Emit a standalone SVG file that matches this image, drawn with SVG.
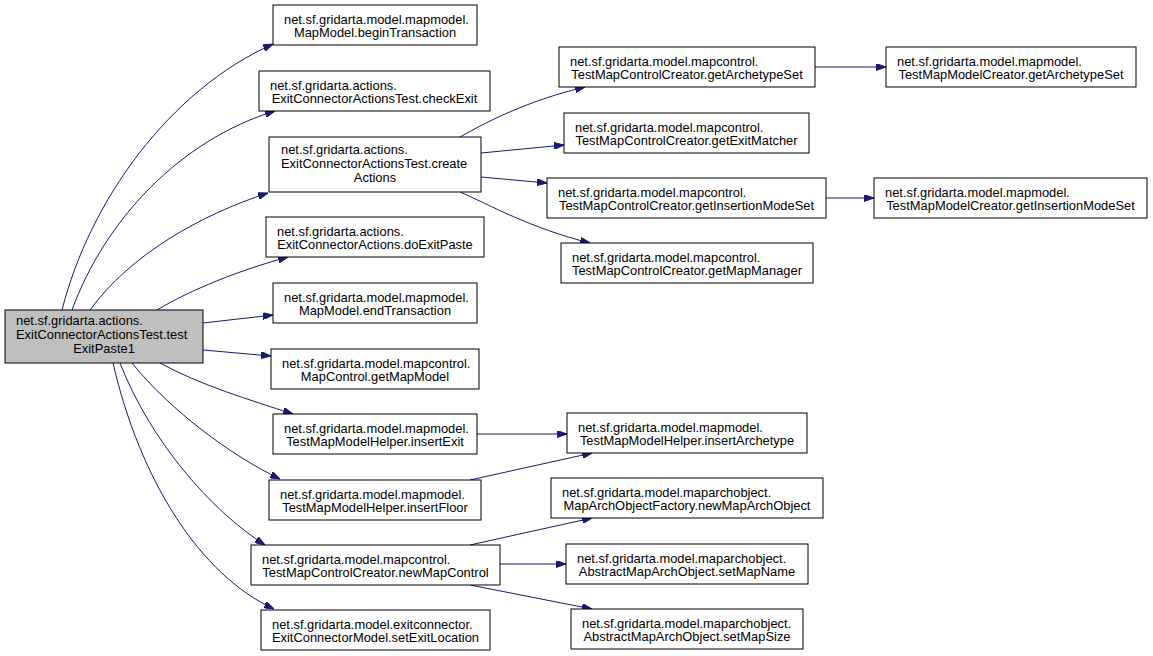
<svg xmlns="http://www.w3.org/2000/svg" width="1153" height="656" viewBox="0 0 1153 656">
<style>
rect{fill:#fff;stroke:#000;stroke-width:1}
#root rect{fill:#bfbfbf}
text{font-family:"Liberation Sans",Arial,sans-serif;font-size:12.9px;fill:#000}
.m{text-anchor:middle}
#edges path{fill:none;stroke:#191970;stroke-width:1;marker-end:url(#a)}
</style>
<defs>
<marker id="a" markerUnits="userSpaceOnUse" markerWidth="10" markerHeight="7" refX="10" refY="3.5" orient="auto" viewBox="0 0 10 7">
<path d="M0,0 L10,3.5 L0,7 z" fill="#191970" stroke="#191970"/>
</marker>
</defs>
<rect x="0" y="0" width="1153" height="656" style="fill:#fff;stroke:none"/>
<g id="edges">
<path d="M62,310 C90,200 170,90 273,44"/>
<path d="M72,310 C105,220 180,140 275,111"/>
<path d="M90,310 C130,255 200,215 268,193"/>
<path d="M157,310 C190,290 240,270 288,257"/>
<path d="M203,323 L273,315"/>
<path d="M203,350 L271,356"/>
<path d="M160,363 C200,385 250,400 293,414"/>
<path d="M132,363 C170,410 230,455 280,479"/>
<path d="M120,363 C150,440 210,510 265,545"/>
<path d="M113,363 C140,480 200,575 274,609"/>
<path d="M460,137 C490,120 530,100 585,87"/>
<path d="M481,153 L564,145"/>
<path d="M481,177 L547,183"/>
<path d="M460,192 C490,205 530,228 590,243"/>
<path d="M815,67 L886,67"/>
<path d="M826,198 L874,198"/>
<path d="M477,434 L567,434"/>
<path d="M470,480 L592,453"/>
<path d="M470,545 L592,518"/>
<path d="M500,564 L566,564"/>
<path d="M470,585 L592,609"/>
</g>
<g id="root">
<rect x="5" y="310" width="198" height="53"/>
<text x="16" y="325">net.sf.gridarta.actions.</text>
<text x="16" y="339">ExitConnectorActionsTest.test</text>
<text x="104" y="353" class="m">ExitPaste1</text>
</g>
<g id="n_beginTransaction">
<rect x="273" y="5" width="204" height="40"/>
<text x="284" y="24">net.sf.gridarta.model.mapmodel.</text>
<text x="375" y="37" class="m">MapModel.beginTransaction</text>
</g>
<g id="n_checkExit">
<rect x="259" y="71" width="231" height="40"/>
<text x="270" y="90">net.sf.gridarta.actions.</text>
<text x="374.5" y="103" class="m">ExitConnectorActionsTest.checkExit</text>
</g>
<g id="n_createActions">
<rect x="269" y="137" width="212" height="55"/>
<text x="281" y="153.5">net.sf.gridarta.actions.</text>
<text x="281" y="167.5">ExitConnectorActionsTest.create</text>
<text x="375" y="182" class="m">Actions</text>
</g>
<g id="n_doExitPaste">
<rect x="266" y="217" width="218" height="40"/>
<text x="277" y="236">net.sf.gridarta.actions.</text>
<text x="375" y="249" class="m">ExitConnectorActions.doExitPaste</text>
</g>
<g id="n_endTransaction">
<rect x="273" y="283" width="204" height="40"/>
<text x="284" y="302">net.sf.gridarta.model.mapmodel.</text>
<text x="375" y="315" class="m">MapModel.endTransaction</text>
</g>
<g id="n_getMapModel">
<rect x="271" y="349" width="208" height="40"/>
<text x="282" y="368">net.sf.gridarta.model.mapcontrol.</text>
<text x="375" y="381" class="m">MapControl.getMapModel</text>
</g>
<g id="n_insertExit">
<rect x="273" y="414" width="204" height="40"/>
<text x="284" y="433">net.sf.gridarta.model.mapmodel.</text>
<text x="375" y="446" class="m">TestMapModelHelper.insertExit</text>
</g>
<g id="n_insertFloor">
<rect x="269" y="480" width="212" height="40"/>
<text x="280" y="499">net.sf.gridarta.model.mapmodel.</text>
<text x="375" y="512" class="m">TestMapModelHelper.insertFloor</text>
</g>
<g id="n_newMapControl">
<rect x="251" y="545" width="249" height="40"/>
<text x="262" y="564">net.sf.gridarta.model.mapcontrol.</text>
<text x="375.5" y="577" class="m">TestMapControlCreator.newMapControl</text>
</g>
<g id="n_setExitLocation">
<rect x="261" y="610" width="229" height="40"/>
<text x="272" y="629">net.sf.gridarta.model.exitconnector.</text>
<text x="375.5" y="642" class="m">ExitConnectorModel.setExitLocation</text>
</g>
<g id="n_mc_getArchetypeSet">
<rect x="559" y="47" width="256" height="40"/>
<text x="570" y="66">net.sf.gridarta.model.mapcontrol.</text>
<text x="687" y="79" class="m">TestMapControlCreator.getArchetypeSet</text>
</g>
<g id="n_getExitMatcher">
<rect x="564" y="113" width="245" height="40"/>
<text x="575" y="132">net.sf.gridarta.model.mapcontrol.</text>
<text x="686.5" y="145" class="m">TestMapControlCreator.getExitMatcher</text>
</g>
<g id="n_mc_getInsertionModeSet">
<rect x="547" y="178" width="279" height="40"/>
<text x="558" y="197">net.sf.gridarta.model.mapcontrol.</text>
<text x="686.5" y="210" class="m">TestMapControlCreator.getInsertionModeSet</text>
</g>
<g id="n_getMapManager">
<rect x="561" y="243" width="252" height="40"/>
<text x="572" y="262">net.sf.gridarta.model.mapcontrol.</text>
<text x="687" y="275" class="m">TestMapControlCreator.getMapManager</text>
</g>
<g id="n_insertArchetype">
<rect x="567" y="413" width="240" height="40"/>
<text x="578" y="432">net.sf.gridarta.model.mapmodel.</text>
<text x="687" y="445" class="m">TestMapModelHelper.insertArchetype</text>
</g>
<g id="n_newMapArchObject">
<rect x="551" y="478" width="272" height="40"/>
<text x="562" y="497">net.sf.gridarta.model.maparchobject.</text>
<text x="687" y="510" class="m">MapArchObjectFactory.newMapArchObject</text>
</g>
<g id="n_setMapName">
<rect x="566" y="544" width="242" height="40"/>
<text x="577" y="563">net.sf.gridarta.model.maparchobject.</text>
<text x="687" y="576" class="m">AbstractMapArchObject.setMapName</text>
</g>
<g id="n_setMapSize">
<rect x="571" y="609" width="232" height="40"/>
<text x="582" y="628">net.sf.gridarta.model.maparchobject.</text>
<text x="687" y="641" class="m">AbstractMapArchObject.setMapSize</text>
</g>
<g id="n_mm_getArchetypeSet">
<rect x="886" y="47" width="250" height="40"/>
<text x="897" y="66">net.sf.gridarta.model.mapmodel.</text>
<text x="1011" y="79" class="m">TestMapModelCreator.getArchetypeSet</text>
</g>
<g id="n_mm_getInsertionModeSet">
<rect x="874" y="178" width="273" height="40"/>
<text x="885" y="197">net.sf.gridarta.model.mapmodel.</text>
<text x="1010.5" y="210" class="m">TestMapModelCreator.getInsertionModeSet</text>
</g>
</svg>
